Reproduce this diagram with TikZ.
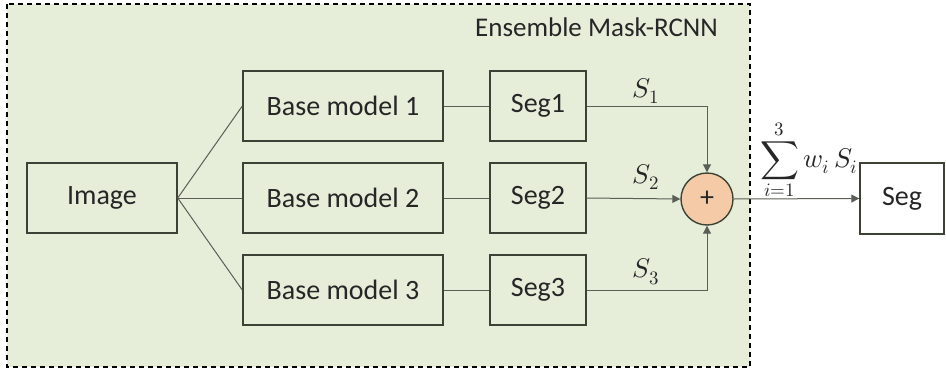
\documentclass[tikz,border=0pt]{standalone}
\usepackage{unicode-math}
\setmainfont{Carlito}
\setmathfont{Latin Modern Math}
\usetikzlibrary{arrows.meta}
\definecolor{bgreen}{HTML}{E6EEDA}
\definecolor{edge}{HTML}{3C4236}
\definecolor{conn}{HTML}{5A5E56}
\definecolor{sumfill}{HTML}{F5CBA7}
\definecolor{txt}{HTML}{262626}
\tikzset{
  box/.style={draw=edge, line width=1.4pt, fill=bgreen, minimum height=70pt, text=txt,
    font=\fontsize{28}{33}\selectfont, inner sep=0pt},
  conline/.style={draw=conn, line width=1pt},
  arr/.style={conline, -{Triangle[length=8pt,width=8pt]}},
  lab/.style={font=\fontsize{27}{32}\selectfont, text=txt, inner sep=0pt},
}
\begin{document}
\begin{tikzpicture}[x=1pt,y=-1pt]
\useasboundingbox (0,0) rectangle (946,370);
\fill[bgreen] (7,4) rectangle (750,367);
\draw[black, line width=1.2pt, dash pattern=on 5pt off 4pt] (7,4) rectangle (750,367);
\node[text=txt, font=\fontsize{27}{32}\selectfont, anchor=east, inner sep=0pt] (title) at (718,27) {Ensemble Mask-RCNN};

\node[box, minimum width=150pt] (img) at (102,198) {Image};
\node[box, minimum width=200pt] (b1) at (343,106) {Base model 1};
\node[box, minimum width=200pt] (b2) at (343,198) {Base model 2};
\node[box, minimum width=200pt] (b3) at (343,290) {Base model 3};
\node[box, minimum width=96pt] (s1) at (538,106) {Seg1};
\node[box, minimum width=96pt] (s2) at (538,198) {Seg2};
\node[box, minimum width=96pt] (s3) at (538,290) {Seg3};
\node[circle, draw=edge, line width=1.4pt, fill=sumfill, minimum size=52pt, inner sep=0pt,
  text=txt, font=\fontsize{28}{32}\selectfont] (plus) at (707,199) {+};
\node[box, fill=white, minimum width=84pt, minimum height=71pt] (out) at (902,198.5) {Seg};

\draw[conline] (img.east) -- (b1.west);
\draw[conline] (img.east) -- (b2.west);
\draw[conline] (img.east) -- (b3.west);
\draw[conline] (b1) -- (s1);
\draw[conline] (b2) -- (s2);
\draw[conline] (b3) -- (s3);
\draw[arr] (s1.east) -| (plus.north);
\draw[arr] (s2.east) -- (plus.west);
\draw[arr] (s3.east) -| (plus.south);
\draw[arr] (plus.east) -- (out.west);

\node[lab] (l1) at (646,91) {$S_1$};
\node[lab] (l2) at (646,177) {$S_2$};
\node[lab] (l3) at (646,272) {$S_3$};
\node[lab] (lsum) at (809,160) {$\displaystyle\sum_{i=1}^{3} w_i\, S_i$};
\end{tikzpicture}
\end{document}
